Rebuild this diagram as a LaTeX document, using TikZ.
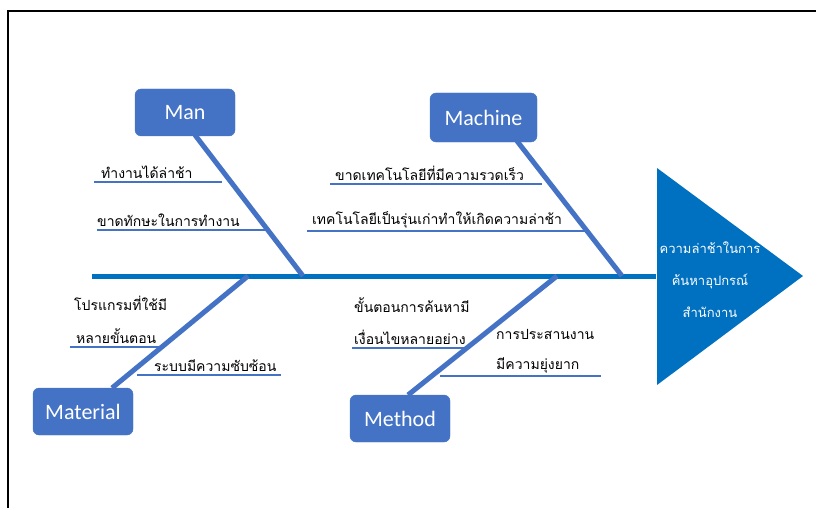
\documentclass[tikz,border=0pt]{standalone}
\usepackage{fontspec}
\setmainfont{Carlito}
\newfontfamily\thaifont[Script=Thai]{Loma}
\definecolor{spineblue}{RGB}{0,112,192}
\definecolor{boneblue}{RGB}{68,114,196}
\tikzset{
  catbox/.style={draw=boneblue,fill=boneblue,rounded corners=6pt,minimum width=100pt,minimum height=47pt,text=white,font=\fontsize{22}{22}\selectfont,inner sep=0pt},
  bone/.style={boneblue,line width=5pt},
  subline/.style={boneblue,line width=1.8pt},
  causetxt/.style={anchor=south west,inner sep=1pt,font=\thaifont\fontsize{14}{16}\selectfont}
}
\begin{document}
\begin{tikzpicture}[x=1pt,y=1pt,yscale=-1]
\useasboundingbox (0,0) rectangle (816,508);
%frame
\draw [line width=2pt] (8,508) -- (8,11) -- (816,11);

%Spine and head
\coordinate (tail) at (92,276);
\node [draw=none,fill=none,inner sep=0pt] (head) at (657,276) {};
\draw [spineblue,line width=5pt] (tail) -- (head);
\fill [spineblue] (657,168) -- (803,276) -- (657,385) -- cycle;
\node [text=white,align=center,font=\thaifont\fontsize{13}{32}\selectfont] (effect) at (710,280) {ความล่าช้าในการ\\ค้นหาอุปกรณ์\\สำนักงาน};

%Categories
\node [catbox] (man) at (185,112.5) {Man};
\node [catbox,minimum width=107pt,minimum height=49pt] (machine) at (483.5,117.5) {Machine};
\node [catbox] (material) at (83,411.5) {Material};
\node [catbox] (method) at (400,418.5) {Method};

%Bones
\coordinate (manend) at (303,276);
\coordinate (machineend) at (622,276);
\coordinate (materialend) at (248,276);
\coordinate (methodend) at (557,276);
\draw [bone] (195,135) -- (manend);
\draw [bone] (517,141) -- (machineend);
\draw [bone] (materialend) -- (112,388);
\draw [bone] (methodend) -- (408,395);

%Man causes
\draw [subline] (94,182) -- (222,182);
\node [causetxt] (m1) at (100,180) {ทำงานได้ล่าช้า};
\draw [subline] (97,230) -- (265,230);
\node [causetxt] (m2) at (96,228) {ขาดทักษะในการทำงาน};

%Machine causes
\draw [subline] (330,184) -- (542,184);
\node [causetxt] (c1) at (334,182) {ขาดเทคโนโลยีที่มีความรวดเร็ว};
\draw [subline] (307,231) -- (588,231);
\node [causetxt] (c2) at (311,229) {เทคโนโลยีเป็นรุ่นเก่าทำให้เกิดความล่าช้า};

%Material causes
\node [causetxt] (t1) at (73,312) {โปรแกรมที่ใช้มี};
\draw [subline] (70,347) -- (162,347);
\node [causetxt] (t2) at (75,345) {หลายขั้นตอน};
\draw [subline] (137,375) -- (281,375);
\node [causetxt] (t3) at (153,373) {ระบบมีความซับซ้อน};

%Method causes
\node [causetxt] (d1) at (353,314) {ขั้นตอนการค้นหามี};
\draw [subline] (352,348) -- (465,348);
\node [causetxt] (d2) at (353,346) {เงื่อนไขหลายอย่าง};
\node [causetxt] (d3) at (495,341) {การประสานงาน};
\draw [subline] (440,376) -- (601,376);
\node [causetxt] (d4) at (495,374) {มีความยุ่งยาก};

\end{tikzpicture}
\end{document}
